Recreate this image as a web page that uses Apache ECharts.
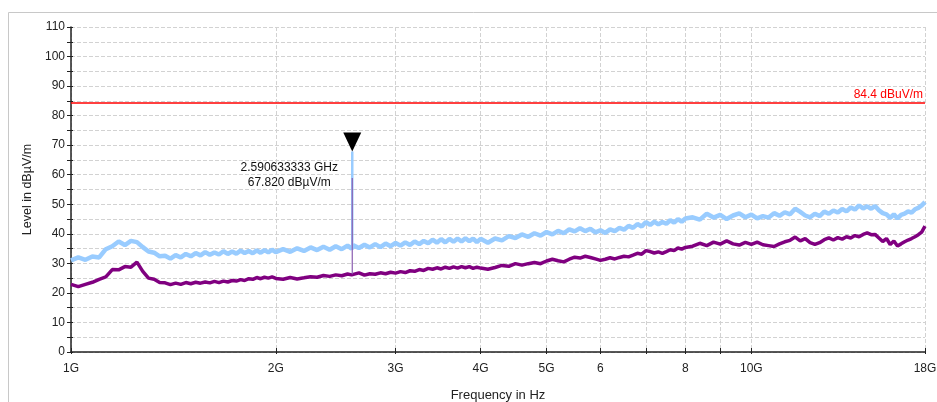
<!DOCTYPE html>
<html><head><meta charset="utf-8">
<script src="https://cdn.jsdelivr.net/npm/echarts@6/dist/echarts.min.js"></script>
<style>html,body{margin:0;padding:0;background:#fff}#c{width:937px;height:402px}</style>
</head><body><div id="c"></div>
<script>
// Sweep frequencies in GHz
const FREQ_GHZ = [
1.000,1.025,1.050,1.075,1.100,1.125,1.150,1.175,1.200,1.225,1.250,1.275,1.300,1.325,1.350,1.375,1.400,1.425,1.450,1.475,
1.500,1.525,1.550,1.575,1.600,1.625,1.650,1.675,1.700,1.725,1.750,1.775,1.800,1.825,1.850,1.875,1.900,1.925,1.950,1.975,2.000,
2.05,2.10,2.15,2.20,2.25,2.30,2.35,2.40,2.45,2.50,2.55,2.585,2.590633333,2.596,2.60,2.65,2.70,2.75,2.80,2.85,2.90,2.95,3.00,
3.05,3.10,3.15,3.20,3.25,3.30,3.35,3.40,3.45,3.50,3.55,3.60,3.65,3.70,3.75,3.80,3.85,3.90,3.95,4.00,
4.1,4.2,4.3,4.4,4.5,4.6,4.7,4.8,4.9,5.0,5.1,5.2,5.3,5.4,5.5,5.6,5.7,5.8,5.9,6.0,
6.1,6.2,6.3,6.4,6.5,6.6,6.7,6.8,6.9,7.0,7.1,7.2,7.3,7.4,7.5,7.6,7.7,7.8,7.9,8.0,
8.2,8.4,8.6,8.8,9.0,9.2,9.4,9.6,9.8,10.0,10.2,10.4,10.6,10.8,11.0,11.2,11.4,11.6,11.8,12.0,
12.2,12.4,12.6,12.8,13.0,13.2,13.4,13.6,13.8,14.0,14.2,14.4,14.6,14.8,15.0,15.2,15.4,15.6,15.8,16.0,
16.2,16.4,16.6,16.8,17.0,17.2,17.4,17.6,17.8,18.0
];
// Peak trace (light blue), dBµV/m
const PEAK = [
31.0,32.0,31.2,32.3,32.0,34.8,35.8,37.4,36.2,37.6,37.2,35.5,34.0,33.6,32.4,32.6,31.6,32.8,32.0,33.2,
32.4,33.5,32.7,33.8,32.9,33.7,33.0,34.1,33.2,34.0,33.3,34.3,33.5,34.2,33.4,34.4,33.6,34.5,33.7,34.6,33.8,
34.8,33.9,35.1,34.2,35.4,34.5,35.6,34.6,35.8,34.8,36.0,35.0,35.3,35.4,36.1,35.2,36.3,35.4,36.5,35.5,36.7,35.8,36.9,
36.0,37.1,36.2,37.4,36.5,37.6,36.8,38.0,37.0,38.2,37.1,38.3,37.3,38.4,37.4,38.5,37.5,38.4,37.2,38.3,
37.0,38.4,37.8,39.2,38.6,39.8,39.0,40.2,39.4,40.6,39.8,41.0,40.2,41.5,40.8,41.9,40.9,41.7,40.5,41.2,
40.3,41.5,40.9,42.0,41.4,42.7,42.0,43.3,42.5,44.0,43.0,44.1,43.2,44.0,43.4,44.6,43.8,45.0,44.1,45.2,
45.6,44.8,46.8,45.5,46.4,45.0,46.2,46.9,45.6,46.5,45.2,46.0,45.5,47.0,46.1,47.3,46.6,48.5,47.4,46.2,
45.6,46.8,46.0,47.5,46.8,47.9,47.2,48.4,47.6,48.9,48.2,49.6,48.6,49.3,48.5,49.4,48.0,47.0,46.6,45.4,
46.6,45.2,46.4,46.8,47.6,47.2,48.3,48.8,49.6,50.8
];
// Average trace (purple), dBµV/m
const AVG = [
22.9,22.1,22.9,23.6,24.6,25.4,27.9,27.8,28.9,28.7,30.4,27.3,25.0,24.6,23.5,23.4,22.8,23.3,22.9,23.5,
23.1,23.6,23.3,23.7,23.4,23.9,23.5,24.0,23.7,24.2,24.0,24.5,24.2,24.8,24.6,25.2,24.8,25.3,25.0,25.4,24.9,
24.6,25.2,24.7,25.1,25.5,25.3,25.9,25.6,26.1,25.8,26.4,26.1,26.3,26.6,26.3,26.8,26.0,26.5,26.3,26.8,26.5,27.0,26.7,
27.2,26.9,27.5,27.3,27.9,27.6,28.3,28.0,28.5,28.1,28.7,28.3,28.8,28.4,28.9,28.5,28.9,28.3,28.7,28.4,
28.0,28.6,29.3,29.0,29.9,29.4,29.9,30.3,29.9,30.8,31.4,30.9,30.5,31.4,32.1,31.8,32.4,32.0,31.5,31.0,
31.4,31.9,31.5,32.0,32.4,32.2,32.8,33.4,33.1,34.3,34.0,33.5,33.9,33.4,34.0,34.6,34.3,35.2,34.8,35.4,
35.8,36.8,36.0,37.2,36.5,37.6,36.6,36.2,37.1,36.4,37.2,36.3,36.0,35.7,36.6,37.3,37.8,38.9,37.6,38.4,
37.0,36.4,37.0,38.0,38.6,37.9,38.7,38.2,39.0,38.6,39.4,39.0,39.8,40.3,39.7,39.8,38.6,37.4,38.4,36.4,
37.6,35.9,36.6,37.3,37.9,38.4,39.0,39.7,40.6,42.6
];
// Narrowband emission at the marker frequency (thin vertical spike), base -> top
const SPIKE_GHZ = [2.590633333, 2.590633333];
const SPIKE_PEAK = [35.3, 67.82];
const SPIKE_AVG = [26.3, 58.9];

const X_TICK_GHZ = [1,2,3,4,5,6,7,8,9,10,18];
const X_LABEL_GHZ = [1,2,3,4,5,6,8,10,18];
const X_LABEL_TEXT = ['1G','2G','3G','4G','5G','6','8','10G','18G'];
const LIMIT = 84.4;
const LIMIT_LABEL = '84.4 dBuV/m';
const MARKER_GHZ = 2.590633333;
const MARKER_LEVEL = 67.82;
const MARKER_TEXT = ['2.590633333 GHz', '67.820 dBµV/m'];

const lg = Math.log10;
const toPts = (fs, arr) => fs.map((f, i) => [lg(f), arr[i]]);
const labelFor = v => {
  const f = Math.pow(10, v);
  const i = X_LABEL_GHZ.findIndex(g => Math.abs(g - f) < 1e-6 * g);
  return i >= 0 ? X_LABEL_TEXT[i] : '';
};
const FONT = 'Liberation Sans, Arial, sans-serif';
const AX = '#222';
const GRIDC = '#d2d2d2';

const chart = echarts.init(document.getElementById('c'), null, {renderer: 'canvas'});
chart.setOption({
  animation: false,
  backgroundColor: '#fff',
  graphic: [{type: 'rect', left: 6, top: 10, silent: true,
    shape: {width: 940, height: 400}, style: {fill: 'none', stroke: '#c8c8c8', lineWidth: 1}}],
  grid: {left: 71, right: 12, top: 27, bottom: 50, containLabel: false, outerBoundsMode: 'none'},
  xAxis: [
    {type: 'value', min: 0, max: lg(18), position: 'bottom',
     axisLine: {show: true, onZero: false, lineStyle: {color: AX, width: 1.5}},
     axisTick: {show: true, inside: false, length: 2, customValues: X_TICK_GHZ.map(lg), lineStyle: {color: AX}},
     axisLabel: {show: true, customValues: X_LABEL_GHZ.map(lg), formatter: labelFor, margin: 11,
       color: AX, fontSize: 12, fontFamily: FONT},
     splitLine: {show: true, lineStyle: {type: 'dashed', color: GRIDC}},
     name: 'Frequency in Hz', nameLocation: 'middle', nameGap: 37,
     nameTextStyle: {color: AX, fontSize: 13, fontFamily: FONT}},
    {type: 'value', min: 0, max: lg(18), position: 'bottom',
     axisLine: {show: false, onZero: false},
     axisTick: {show: true, inside: true, length: 4, customValues: X_TICK_GHZ.map(lg), lineStyle: {color: AX}},
     axisLabel: {show: false}, splitLine: {show: false}}
  ],
  yAxis: [
    {type: 'value', min: 0, max: 110, interval: 10, position: 'left',
     axisLine: {show: true, onZero: false, lineStyle: {color: AX, width: 1.5}},
     axisTick: {show: true, inside: false, length: 4, lineStyle: {color: AX}},
     minorTick: {show: true, splitNumber: 2, length: 4, lineStyle: {color: AX}},
     axisLabel: {margin: 6, color: AX, fontSize: 12, fontFamily: FONT},
     splitLine: {show: true, lineStyle: {type: 'dashed', color: GRIDC}},
     minorSplitLine: {show: true, lineStyle: {type: 'dashed', color: GRIDC}},
     name: 'Level in dBµV/m', nameLocation: 'middle', nameGap: 32, nameRotate: 90,
     nameTextStyle: {color: AX, fontSize: 12.5, fontFamily: FONT}},
    {type: 'value', min: 0, max: 110, interval: 10, position: 'left',
     axisLine: {show: false, onZero: false},
     axisTick: {show: true, inside: true, length: 2, lineStyle: {color: AX}},
     minorTick: {show: true, splitNumber: 2, length: 2, lineStyle: {color: AX}},
     axisLabel: {show: false}, splitLine: {show: false}, minorSplitLine: {show: false}}
  ],
  series: [
    {type: 'line', name: 'Peak', data: toPts(FREQ_GHZ, PEAK), symbol: 'none', showSymbol: false, z: 2,
     lineStyle: {color: '#99ccff', width: 4.5},
     markLine: {silent: true, symbol: 'none', z: 4,
       data: [{yAxis: LIMIT}],
       lineStyle: {color: '#ff0000', width: 1.5, type: 'solid'},
       label: {show: true, position: 'insideEndTop', formatter: LIMIT_LABEL, color: '#ff0000',
         fontSize: 12, fontFamily: FONT, distance: 2}},
     markPoint: {silent: true, z: 5, data: [
       {coord: [lg(MARKER_GHZ), MARKER_LEVEL], symbol: 'triangle', symbolSize: [18, 19],
        symbolRotate: 180, symbolOffset: [0, -9.5], itemStyle: {color: '#000'}, label: {show: false}},
       {coord: [lg(MARKER_GHZ), MARKER_LEVEL], symbol: 'circle', symbolSize: 1,
        itemStyle: {color: 'rgba(0,0,0,0)'},
        label: {show: true, position: 'inside', offset: [-63, 24], formatter: MARKER_TEXT.join('\n'),
          color: '#111', fontSize: 12, lineHeight: 15, fontFamily: FONT, align: 'center'}}
     ]}},
    {type: 'line', name: 'Peak spike', data: toPts(SPIKE_GHZ, SPIKE_PEAK), symbol: 'none', z: 2,
     lineStyle: {color: '#99ccff', width: 2.5}},
    {type: 'line', name: 'Average', data: toPts(FREQ_GHZ, AVG), symbol: 'none', showSymbol: false, z: 3,
     lineStyle: {color: '#800080', width: 3.5}},
    {type: 'line', name: 'Average spike', data: toPts(SPIKE_GHZ, SPIKE_AVG), symbol: 'none', z: 3,
     lineStyle: {color: '#8a5cb0', width: 1.2}}
  ]
});
</script></body></html>
